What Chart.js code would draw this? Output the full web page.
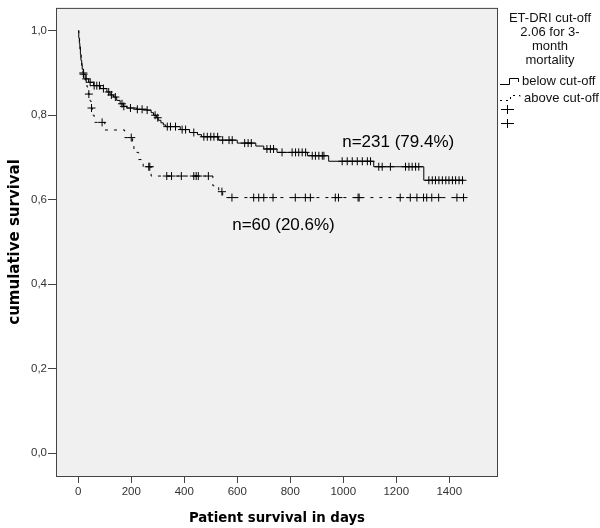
<!DOCTYPE html>
<html>
<head>
<meta charset="utf-8">
<script src="https://cdn.jsdelivr.net/npm/chart.js@4"></script>
<style>
  body { margin: 0; background: #fff; }
</style>
</head>
<body>
<canvas id="kmChart" width="600" height="528"></canvas>
<script>
// Kaplan-Meier steps (day, cumulative survival)
const belowDays = [0, 2, 4, 6, 8, 10, 13, 15, 20, 26, 39, 58, 83, 108, 120, 133, 145, 158, 170, 183, 221, 259, 275, 284, 295, 302, 312, 321, 330, 385, 420, 450, 465, 530, 600, 670, 700, 750, 865, 945, 1115, 1304, 1455];
const belowSurv = [1.0, 0.983, 0.97, 0.957, 0.944, 0.93, 0.918, 0.909, 0.897, 0.886, 0.878, 0.870, 0.863, 0.855, 0.848, 0.843, 0.835, 0.827, 0.821, 0.817, 0.814, 0.812, 0.806, 0.800, 0.794, 0.788, 0.782, 0.777, 0.773, 0.766, 0.759, 0.754, 0.749, 0.741, 0.734, 0.727, 0.720, 0.712, 0.704, 0.691, 0.678, 0.646, 0.646];

const aboveDays = [0, 2, 5, 8, 11, 14, 18, 26, 33, 38, 45, 50, 53, 60, 100, 175, 205, 210, 228, 245, 275, 508, 530, 545, 1460];
const aboveSurv = [1.0, 0.983, 0.967, 0.95, 0.933, 0.917, 0.90, 0.883, 0.867, 0.85, 0.833, 0.817, 0.80, 0.783, 0.765, 0.747, 0.73, 0.712, 0.695, 0.678, 0.656, 0.633, 0.619, 0.605, 0.605];

// censored patients (days)
const belowCensored = [20, 30, 45, 60, 70, 80, 95, 115, 125, 140, 165, 172, 197, 223, 241, 260, 290, 300, 336, 348, 367, 392, 405, 436, 474, 487, 500, 512, 526, 545, 569, 581, 628, 641, 653, 712, 725, 737, 769, 807, 820, 832, 845, 858, 883, 895, 908, 921, 927, 996, 1015, 1034, 1053, 1072, 1091, 1103, 1134, 1147, 1178, 1235, 1248, 1260, 1273, 1285, 1323, 1336, 1348, 1361, 1374, 1387, 1399, 1412, 1424, 1437, 1450];
const aboveCensored = [19, 40, 50, 90, 200, 266, 270, 334, 352, 389, 436, 445, 453, 491, 542, 580, 662, 681, 700, 735, 819, 857, 876, 970, 982, 1056, 1060, 1215, 1253, 1278, 1303, 1315, 1334, 1360, 1429, 1454];

const xTicks = [0, 200, 400, 600, 800, 1000, 1200, 1400];
const yTicks = [0, 0.2, 0.4, 0.6, 0.8, 1.0];

const legendTitle = ["ET-DRI cut-off", "2.06 for 3-", "month", "mortality"];
const groupNames = ["below cut-off", "above cut-off"];
const groupLabels = ["n=231 (79.4%)", "n=60 (20.6%)"];
const labelAt = [[996, 0.736], [581, 0.539]];

// survival value on the step curve at time t
function survAt(days, surv, t) {
    let v = surv[0];
    for (let i = 0; i < days.length; i++) {
        if (days[i] <= t) v = surv[i];
    }
    return v;
}

const toPoints = (d, s) => d.map((x, i) => ({ x: x, y: s[i] }));
const censorPoints = (c, d, s) => c.map(t => ({ x: t, y: survAt(d, s, t) }));

const tickFont = { family: "Liberation Sans", size: 11.5 };

// grey plot area and frame, SPSS style
const frame = {
    id: "frame",
    beforeDatasetsDraw(chart) {
        const { ctx, chartArea: a } = chart;
        ctx.save();
        ctx.fillStyle = "#f0f0f0";
        ctx.fillRect(a.left, a.top, a.right - a.left, a.bottom - a.top);
        ctx.restore();
    },
    afterDraw(chart) {
        const { ctx, chartArea: a, scales } = chart;
        ctx.save();
        ctx.strokeStyle = "#444";
        ctx.lineWidth = 1;
        ctx.strokeRect(a.left + 0.5, a.top + 0.5, a.right - a.left - 1, a.bottom - a.top);

        // n labels
        ctx.fillStyle = "#000";
        ctx.font = "17px 'Liberation Sans'";
        ctx.textBaseline = "middle";
        ctx.textAlign = "left";
        groupLabels.forEach((txt, i) => {
            ctx.fillText(txt, scales.x.getPixelForValue(labelAt[i][0]), scales.y.getPixelForValue(labelAt[i][1]));
        });

        // legend on the right
        const cx = 550;
        ctx.font = "13px 'Liberation Sans'";
        ctx.textAlign = "center";
        ctx.fillStyle = "#111";
        legendTitle.forEach((line, i) => ctx.fillText(line, cx, 18 + i * 14));

        ctx.textAlign = "left";
        ctx.fillText(groupNames[0], 522, 81);
        ctx.fillText(groupNames[1], 524, 98);

        ctx.strokeStyle = "#000";
        ctx.beginPath();
        ctx.moveTo(500, 84.5); ctx.lineTo(509.5, 84.5); ctx.lineTo(509.5, 78.5);
        ctx.lineTo(518.5, 78.5); ctx.lineTo(518.5, 82);
        ctx.stroke();

        ctx.setLineDash([2, 4]);
        ctx.beginPath();
        ctx.moveTo(500, 100.5); ctx.lineTo(510.5, 100.5); ctx.lineTo(510.5, 95.5);
        ctx.lineTo(520, 95.5); ctx.lineTo(520, 99);
        ctx.stroke();
        ctx.setLineDash([]);

        [109, 123].forEach(y => {
            ctx.beginPath();
            ctx.moveTo(501, y + 0.5); ctx.lineTo(514, y + 0.5);
            ctx.moveTo(507.5, y - 4); ctx.lineTo(507.5, y + 5);
            ctx.stroke();
        });
        ctx.restore();
    }
};

new Chart(document.getElementById("kmChart"), {
    type: "scatter",
    data: {
        datasets: [
            {
                label: groupNames[0],
                data: toPoints(belowDays, belowSurv),
                showLine: true,
                stepped: true,
                borderColor: "#000",
                borderWidth: 1,
                pointRadius: 0
            },
            {
                label: groupNames[1],
                data: toPoints(aboveDays, aboveSurv),
                showLine: true,
                stepped: true,
                borderColor: "#000",
                borderWidth: 1,
                borderDash: [3, 6],
                pointRadius: 0
            },
            {
                label: "below censored",
                data: censorPoints(belowCensored, belowDays, belowSurv),
                pointStyle: "cross",
                pointRadius: 4,
                borderColor: "#000",
                borderWidth: 1
            },
            {
                label: "above censored",
                data: censorPoints(aboveCensored, aboveDays, aboveSurv),
                pointStyle: "cross",
                pointRadius: 4,
                borderColor: "#000",
                borderWidth: 1
            }
        ]
    },
    options: {
        responsive: false,
        animation: false,
        devicePixelRatio: 1,
        layout: { padding: { left: 0, top: 3, right: 102, bottom: 0 } },
        plugins: {
            legend: { display: false },
            tooltip: { enabled: false }
        },
        scales: {
            x: {
                type: "linear",
                min: -84,
                max: 1584,
                afterBuildTicks: s => { s.ticks = xTicks.map(v => ({ value: v })); },
                afterFit: s => { s.height = 52; },
                grid: { drawOnChartArea: false, drawTicks: true, tickLength: 7, color: "#444" },
                border: { display: false },
                ticks: { font: tickFont, color: "#333", padding: 2, maxRotation: 0, callback: v => String(v) },
                title: {
                    display: true,
                    text: "Patient survival in days",
                    font: { family: "DejaVu Sans", size: 13.3, weight: "bold" },
                    color: "#000",
                    padding: { top: 0, bottom: 1 }
                }
            },
            y: {
                min: -0.054,
                max: 1.054,
                afterBuildTicks: s => { s.ticks = yTicks.map(v => ({ value: v })); },
                afterFit: s => { s.width = 56; },
                grid: { drawOnChartArea: false, drawTicks: true, tickLength: 8, color: "#444" },
                border: { display: false },
                ticks: {
                    font: tickFont,
                    color: "#333",
                    padding: 1,
                    callback: v => v.toFixed(1).replace(".", ",")
                },
                title: {
                    display: true,
                    text: "cumulative survival",
                    font: { family: "DejaVu Sans", size: 15, weight: "bold" },
                    color: "#000",
                    padding: { top: 6, bottom: 0 }
                }
            }
        }
    },
    plugins: [frame]
});
</script>
</body>
</html>
